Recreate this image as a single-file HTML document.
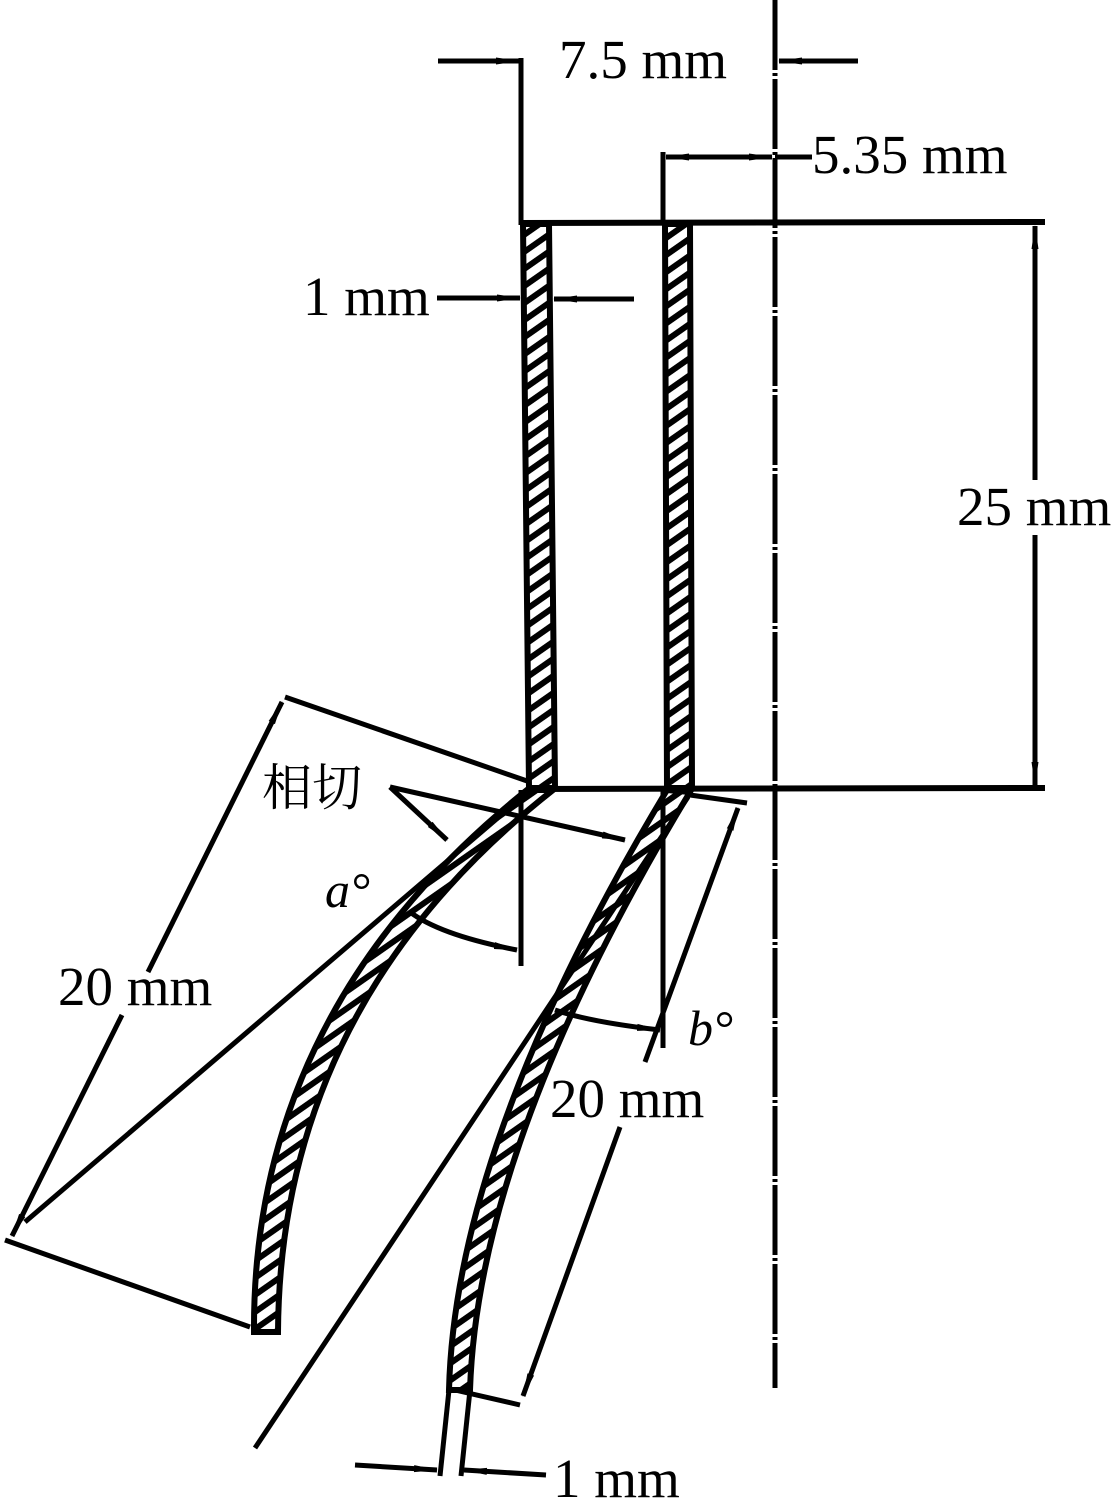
<!DOCTYPE html>
<html><head><meta charset="utf-8"><style>
html,body{margin:0;padding:0;background:#fff}
svg{display:block}
text{font-family:"Liberation Serif","Noto Serif CJK SC",serif;fill:#000}
</style></head><body>
<svg width="1118" height="1499" viewBox="0 0 1118 1499" xmlns="http://www.w3.org/2000/svg">
<defs>
<pattern id="h" patternUnits="userSpaceOnUse" width="14" height="14" patternTransform="rotate(-35)">
<rect width="14" height="14" fill="#fff"/>
<rect width="14" height="6" fill="#000"/>
</pattern>
<marker id="a" markerWidth="24" markerHeight="10" refX="23" refY="5" orient="auto" markerUnits="userSpaceOnUse">
<path d="M0,1.5 L24,5 L0,8.5 Z" fill="#000"/>
</marker>
<marker id="s" markerWidth="24" markerHeight="10" refX="1" refY="5" orient="auto" markerUnits="userSpaceOnUse">
<path d="M24,1.5 L0,5 L24,8.5 Z" fill="#000"/>
</marker>
</defs>
<g stroke="#000" fill="none" stroke-width="5">
<line x1="775" y1="0" x2="775" y2="1388" stroke-dasharray="70,3,3,3" stroke-width="5"/>
<line x1="521" y1="223" x2="1045" y2="222" stroke-width="6"/>
<line x1="527" y1="789" x2="1045" y2="788" stroke-width="6"/>
<line x1="1035" y1="226" x2="1035" y2="485" marker-start="url(#s)"/>
<line x1="1035" y1="535" x2="1035" y2="785" marker-end="url(#a)"/>
<line x1="521" y1="58" x2="521" y2="225"/>
<line x1="438" y1="61" x2="519" y2="61" marker-end="url(#a)"/>
<line x1="858" y1="61" x2="779" y2="61" marker-end="url(#a)"/>
<line x1="663" y1="152" x2="663" y2="225"/>
<line x1="666" y1="157" x2="772" y2="157" marker-start="url(#s)" marker-end="url(#a)"/>
<line x1="775" y1="157" x2="812" y2="157"/>
<line x1="437" y1="298" x2="520" y2="298" marker-end="url(#a)"/>
<line x1="634" y1="299" x2="554" y2="299" marker-end="url(#a)"/>
<path d="M523,224 L549,224 L555,788 L529,788 Z" fill="url(#h)" stroke-width="6"/>
<path d="M665,224 L690,224 L692,788 L667,788 Z" fill="url(#h)" stroke-width="6"/>
<path d="M527,790 Q252,1010 254,1332 L278,1332 Q280,1005 553,790 Z" fill="url(#h)" stroke-width="6"/>
<path d="M667,790 Q455,1143 449,1390 L470,1390 Q478,1143 690,792 Z" fill="url(#h)" stroke-width="6"/>
<line x1="449" y1="1390" x2="440" y2="1476"/>
<line x1="470" y1="1390" x2="461" y2="1476"/>
<line x1="355" y1="1465" x2="437" y2="1470" marker-end="url(#a)"/>
<line x1="546" y1="1475" x2="464" y2="1470" marker-end="url(#a)"/>
<line x1="285" y1="697" x2="530" y2="782"/>
<line x1="5" y1="1240" x2="250" y2="1327"/>
<line x1="148" y1="972" x2="282" y2="702" marker-end="url(#a)"/>
<line x1="122" y1="1015" x2="12" y2="1236" marker-end="url(#a)"/>
<line x1="25" y1="1222" x2="527" y2="793"/>
<line x1="690" y1="795" x2="747" y2="803"/>
<line x1="455" y1="1390" x2="520" y2="1405"/>
<line x1="645" y1="1062" x2="738" y2="808" marker-end="url(#a)"/>
<line x1="620" y1="1127" x2="523" y2="1396" marker-end="url(#a)"/>
<line x1="688" y1="797" x2="255" y2="1448"/>
<line x1="521" y1="790" x2="521" y2="966"/>
<line x1="663" y1="790" x2="663" y2="1048"/>
<path d="M410,912 Q440,935 517,950" marker-end="url(#a)"/>
<path d="M555,1010 Q590,1022 660,1030" marker-end="url(#a)"/>
<line x1="390" y1="787" x2="447" y2="840" marker-end="url(#a)"/>
<line x1="390" y1="787" x2="625" y2="840" marker-end="url(#a)"/>
</g>
<rect x="955" y="480" width="163" height="55" fill="#fff"/>
<text x="559" y="78" font-size="55">7.5 mm</text>
<text x="812" y="173" font-size="55">5.35 mm</text>
<text x="303" y="315" font-size="55">1 mm</text>
<text x="957" y="525" font-size="55">25 mm</text>
<text x="262" y="805" font-size="50">相切</text>
<text x="325" y="907" font-size="50" font-style="italic">a°</text>
<text x="58" y="1005" font-size="55">20 mm</text>
<text x="688" y="1045" font-size="50" font-style="italic">b°</text>
<text x="550" y="1117" font-size="55">20 mm</text>
<text x="553" y="1497" font-size="55">1 mm</text>
</svg>
</body></html>
